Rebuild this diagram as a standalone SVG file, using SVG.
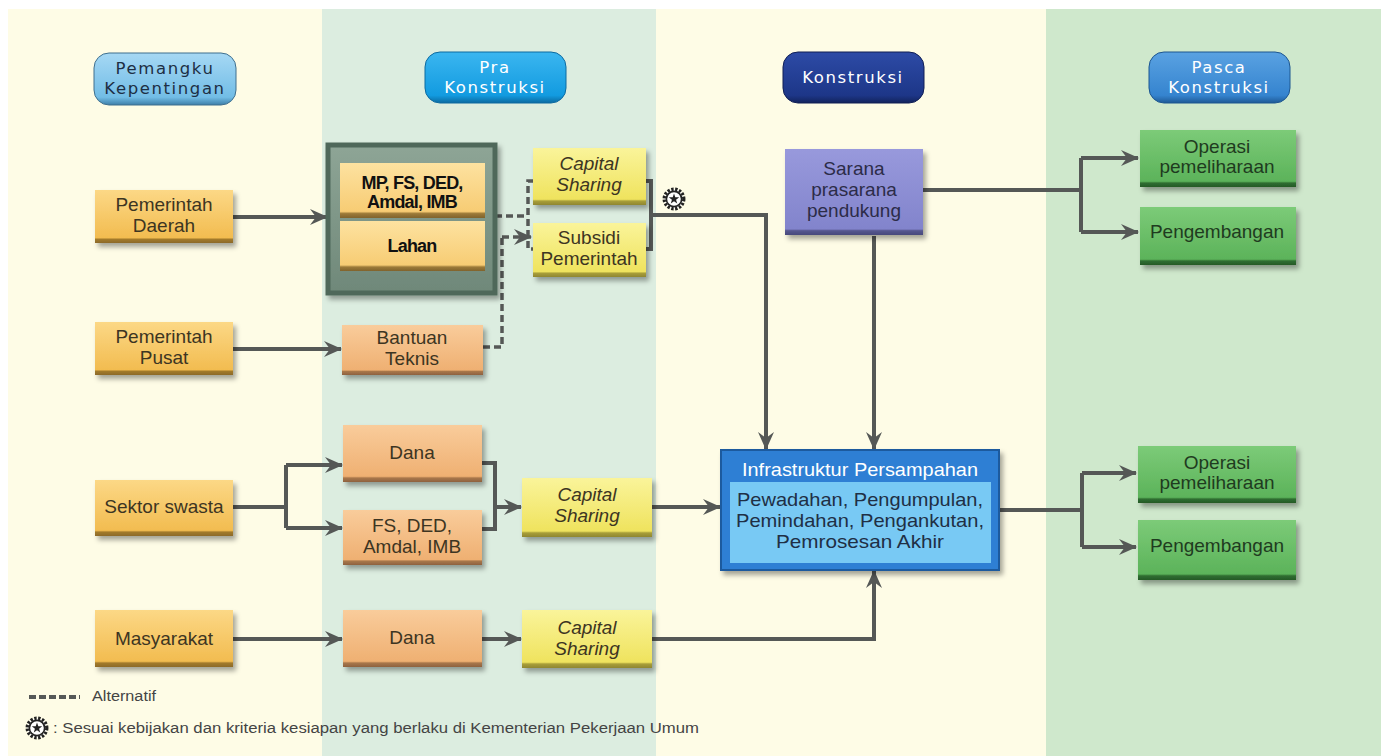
<svg xmlns="http://www.w3.org/2000/svg" width="1381" height="756" viewBox="0 0 1381 756">
  <style>
    .lbl { font-family: "Liberation Sans", Arial, sans-serif; font-size: 19px; fill: #3d3522; text-anchor: middle; }
    .ital { font-style: italic; }
    .hdr { font-family: "DejaVu Sans", Verdana, sans-serif; font-size: 16.5px; letter-spacing: 1.6px; text-anchor: middle; fill: #ffffff; }
    .bold { font-family: "Liberation Sans Narrow", "Liberation Sans", Arial, sans-serif; font-weight: bold; font-size: 18px; fill: #111; text-anchor: middle; letter-spacing: -0.8px; }
    .conn { fill: none; stroke: #555856; stroke-width: 4; }
    .dash { fill: none; stroke: #555856; stroke-width: 3.5; stroke-dasharray: 7 4; }
    .note { font-family: "Liberation Sans", Arial, sans-serif; font-size: 14px; fill: #444; }
  </style>
  <defs>
    <filter id="shadow" x="-10%" y="-10%" width="130%" height="140%">
      <feDropShadow dx="3" dy="4" stdDeviation="2.5" flood-color="#000" flood-opacity="0.35"/>
    </filter>
    <linearGradient id="gStake" x1="0" y1="0" x2="0" y2="1">
      <stop offset="0" stop-color="#fcd886"/>
      <stop offset="0.9" stop-color="#f2bc50"/>
      <stop offset="0.93" stop-color="#a27a2c"/>
      <stop offset="1" stop-color="#8c6a28"/>
    </linearGradient>
    <linearGradient id="gOrange" x1="0" y1="0" x2="0" y2="1">
      <stop offset="0" stop-color="#f9cc9b"/>
      <stop offset="0.9" stop-color="#efb072"/>
      <stop offset="0.93" stop-color="#a8764a"/>
      <stop offset="1" stop-color="#8e6240"/>
    </linearGradient>
    <linearGradient id="gYellow" x1="0" y1="0" x2="0" y2="1">
      <stop offset="0" stop-color="#faf49a"/>
      <stop offset="0.9" stop-color="#efe35e"/>
      <stop offset="0.93" stop-color="#a89e3a"/>
      <stop offset="1" stop-color="#8f8630"/>
    </linearGradient>
    <linearGradient id="gInner" x1="0" y1="0" x2="0" y2="1">
      <stop offset="0" stop-color="#fde2a0"/>
      <stop offset="0.88" stop-color="#f7cc74"/>
      <stop offset="0.92" stop-color="#9c7a38"/>
      <stop offset="1" stop-color="#80632c"/>
    </linearGradient>
    <linearGradient id="gPurple" x1="0" y1="0" x2="0" y2="1">
      <stop offset="0" stop-color="#9899dc"/>
      <stop offset="0.93" stop-color="#8284cc"/>
      <stop offset="0.95" stop-color="#55568e"/>
      <stop offset="1" stop-color="#484a7c"/>
    </linearGradient>
    <linearGradient id="gGreen" x1="0" y1="0" x2="0" y2="1">
      <stop offset="0" stop-color="#7ccb78"/>
      <stop offset="0.9" stop-color="#5cb35a"/>
      <stop offset="0.93" stop-color="#2f6e31"/>
      <stop offset="1" stop-color="#255a27"/>
    </linearGradient>
    <linearGradient id="gBox" x1="0" y1="0" x2="0" y2="1">
      <stop offset="0" stop-color="#8ea596"/>
      <stop offset="1" stop-color="#6f8879"/>
    </linearGradient>
    <linearGradient id="gP1" x1="0" y1="0" x2="0" y2="1">
      <stop offset="0" stop-color="#a6d8f4"/>
      <stop offset="0.85" stop-color="#72bde6"/>
      <stop offset="1" stop-color="#3d7ea8"/>
    </linearGradient>
    <linearGradient id="gP2" x1="0" y1="0" x2="0" y2="1">
      <stop offset="0" stop-color="#3bb6f0"/>
      <stop offset="0.85" stop-color="#129be0"/>
      <stop offset="1" stop-color="#0b6aa0"/>
    </linearGradient>
    <linearGradient id="gP3" x1="0" y1="0" x2="0" y2="1">
      <stop offset="0" stop-color="#2d4ba6"/>
      <stop offset="0.85" stop-color="#1d3688"/>
      <stop offset="1" stop-color="#12235c"/>
    </linearGradient>
    <linearGradient id="gP4" x1="0" y1="0" x2="0" y2="1">
      <stop offset="0" stop-color="#5aa2e2"/>
      <stop offset="0.85" stop-color="#3584cf"/>
      <stop offset="1" stop-color="#1f5a96"/>
    </linearGradient>
    <marker id="arr" viewBox="0 0 18 16" refX="17" refY="8" markerWidth="18" markerHeight="16" markerUnits="userSpaceOnUse" orient="auto">
      <path d="M0,0 L18,8 L0,16 L6,8 Z" fill="#555856"/>
    </marker>
    <symbol id="seal" viewBox="-11 -11 22 22" overflow="visible">
      <circle r="9" fill="#fff" stroke="#222" stroke-width="3" stroke-dasharray="2.2 1.4"/>
      <circle r="7" fill="#fff" stroke="#222" stroke-width="1.5"/>
      <polygon points="0,-5 1.18,-1.62 4.76,-1.55 1.9,0.62 2.94,4.05 0,2 -2.94,4.05 -1.9,0.62 -4.76,-1.55 -1.18,-1.62" fill="#222"/>
    </symbol>
  </defs>

  <!-- phase columns -->
  <rect x="0" y="0" width="1381" height="756" fill="#ffffff"/>
  <rect x="8" y="9" width="314" height="747" fill="#fefce6"/>
  <rect x="322" y="9" width="334" height="747" fill="#dcede0"/>
  <rect x="656" y="9" width="390" height="747" fill="#fefce6"/>
  <rect x="1046" y="9" width="335" height="747" fill="#cfe8cc"/>

  <!-- phase headers -->
  <g id="hdr-pemangku">
    <rect x="94" y="53" width="142" height="52" rx="15" fill="url(#gP1)" stroke="#3f6f8e" stroke-width="1"/>
    <text class="hdr" x="165" y="74" style="fill:#1d2f44">Pemangku</text>
    <text class="hdr" x="165" y="94" style="fill:#1d2f44">Kepentingan</text>
  </g>
  <g id="hdr-pra">
    <rect x="425" y="52" width="141" height="51" rx="15" fill="url(#gP2)" stroke="#0d6aa0" stroke-width="1"/>
    <text class="hdr" x="495" y="73">Pra</text>
    <text class="hdr" x="495" y="93">Konstruksi</text>
  </g>
  <g id="hdr-konstruksi">
    <rect x="783" y="52" width="141" height="51" rx="15" fill="url(#gP3)" stroke="#101f55" stroke-width="1"/>
    <text class="hdr" x="853" y="83">Konstruksi</text>
  </g>
  <g id="hdr-pasca">
    <rect x="1149" y="52" width="141" height="51" rx="15" fill="url(#gP4)" stroke="#1d5690" stroke-width="1"/>
    <text class="hdr" x="1219" y="73">Pasca</text>
    <text class="hdr" x="1219" y="93">Konstruksi</text>
  </g>

  <!-- connectors -->
  <g id="connectors">
    <path class="conn" d="M233,217 H327" marker-end="url(#arr)"/>
    <path class="conn" d="M233,349 H341" marker-end="url(#arr)"/>
    <!-- alternative (dashed) routes -->
    <path class="dash" d="M495,216 H528"/>
    <path class="dash" d="M534,181 H528 V249 H534"/>
    <path class="dash" d="M483,347 H502 V237"/>
    <path class="dash" d="M502,237 H531" marker-end="url(#arr)"/>
    <!-- capital sharing / subsidi to infrastructure -->
    <path class="conn" d="M645,181 H651 V249 H645" stroke-width="3"/>
    <path class="conn" d="M651,215 H766 V449" marker-end="url(#arr)"/>
    <path class="conn" d="M874,236 V449" marker-end="url(#arr)"/>
    <path class="conn" d="M922,190 H1081"/>
    <path class="conn" d="M1081,158 V232"/>
    <path class="conn" d="M1081,158 H1138" marker-end="url(#arr)"/>
    <path class="conn" d="M1081,232 H1138" marker-end="url(#arr)"/>
    <!-- sektor swasta -->
    <path class="conn" d="M233,507 H286"/>
    <path class="conn" d="M286,465 V528"/>
    <path class="conn" d="M286,465 H342" marker-end="url(#arr)"/>
    <path class="conn" d="M286,528 H342" marker-end="url(#arr)"/>
    <path class="conn" d="M482,463 H495 V529 H482" stroke-width="3"/>
    <path class="conn" d="M495,507 H521" marker-end="url(#arr)"/>
    <path class="conn" d="M652,507 H720" marker-end="url(#arr)"/>
    <!-- masyarakat -->
    <path class="conn" d="M233,639 H342" marker-end="url(#arr)" stroke-width="5"/>
    <path class="conn" d="M482,639 H521" marker-end="url(#arr)"/>
    <path class="conn" d="M652,639 H874 V571" marker-end="url(#arr)"/>
    <!-- infrastruktur to pasca konstruksi -->
    <path class="conn" d="M999,510 H1082" stroke-width="5"/>
    <path class="conn" d="M1082,473 V547"/>
    <path class="conn" d="M1082,473 H1136" marker-end="url(#arr)"/>
    <path class="conn" d="M1082,547 H1136" marker-end="url(#arr)"/>
    <use href="#seal" x="662" y="187" width="24" height="24"/>
  </g>

  <!-- stakeholders -->
  <g id="pemerintah-daerah">
    <rect x="95" y="190" width="138" height="53" fill="url(#gStake)" filter="url(#shadow)"/>
    <text class="lbl" x="164" y="211">Pemerintah</text>
    <text class="lbl" x="164" y="232">Daerah</text>
  </g>
  <g id="pemerintah-pusat">
    <rect x="95" y="322" width="138" height="53" fill="url(#gStake)" filter="url(#shadow)"/>
    <text class="lbl" x="164" y="343">Pemerintah</text>
    <text class="lbl" x="164" y="364">Pusat</text>
  </g>
  <g id="sektor-swasta">
    <rect x="95" y="480" width="138" height="56" fill="url(#gStake)" filter="url(#shadow)"/>
    <text class="lbl" x="164" y="513">Sektor swasta</text>
  </g>
  <g id="masyarakat">
    <rect x="95" y="610" width="138" height="57" fill="url(#gStake)" filter="url(#shadow)"/>
    <text class="lbl" x="164" y="645">Masyarakat</text>
  </g>

  <!-- pra konstruksi -->
  <g id="dokumen-lahan">
    <rect x="328" y="145" width="167" height="148" fill="url(#gBox)" stroke="#4f685a" stroke-width="5" filter="url(#shadow)"/>
    <rect x="340" y="163" width="145" height="55" fill="url(#gInner)"/>
    <text class="bold" x="412" y="189">MP, FS, DED,</text>
    <text class="bold" x="412" y="208">Amdal, IMB</text>
    <rect x="340" y="221" width="145" height="50" fill="url(#gInner)"/>
    <text class="bold" x="412" y="252">Lahan</text>
  </g>
  <g id="capital-sharing-1">
    <rect x="533" y="148" width="113" height="57" fill="url(#gYellow)" filter="url(#shadow)"/>
    <text class="lbl ital" x="589" y="170">Capital</text>
    <text class="lbl ital" x="589" y="191">Sharing</text>
  </g>
  <g id="subsidi-pemerintah">
    <rect x="533" y="223" width="113" height="54" fill="url(#gYellow)" filter="url(#shadow)"/>
    <text class="lbl" x="589" y="244">Subsidi</text>
    <text class="lbl" x="589" y="265">Pemerintah</text>
  </g>
  <g id="bantuan-teknis">
    <rect x="342" y="325" width="141" height="50" fill="url(#gOrange)" filter="url(#shadow)"/>
    <text class="lbl" x="412" y="344">Bantuan</text>
    <text class="lbl" x="412" y="365">Teknis</text>
  </g>
  <g id="dana-swasta">
    <rect x="343" y="425" width="139" height="57" fill="url(#gOrange)" filter="url(#shadow)"/>
    <text class="lbl" x="412" y="459">Dana</text>
  </g>
  <g id="dokumen-swasta">
    <rect x="343" y="510" width="139" height="55" fill="url(#gOrange)" filter="url(#shadow)"/>
    <text class="lbl" x="412" y="532">FS, DED,</text>
    <text class="lbl" x="412" y="553">Amdal, IMB</text>
  </g>
  <g id="capital-sharing-2">
    <rect x="522" y="478" width="130" height="59" fill="url(#gYellow)" filter="url(#shadow)"/>
    <text class="lbl ital" x="587" y="501">Capital</text>
    <text class="lbl ital" x="587" y="522">Sharing</text>
  </g>
  <g id="dana-masyarakat">
    <rect x="343" y="610" width="139" height="57" fill="url(#gOrange)" filter="url(#shadow)"/>
    <text class="lbl" x="412" y="644">Dana</text>
  </g>
  <g id="capital-sharing-3">
    <rect x="522" y="610" width="130" height="58" fill="url(#gYellow)" filter="url(#shadow)"/>
    <text class="lbl ital" x="587" y="634">Capital</text>
    <text class="lbl ital" x="587" y="655">Sharing</text>
  </g>

  <!-- konstruksi -->
  <g id="sarana-prasarana">
    <rect x="785" y="149" width="138" height="86" fill="url(#gPurple)" filter="url(#shadow)"/>
    <text class="lbl" x="854" y="175" style="fill:#2c2c48">Sarana</text>
    <text class="lbl" x="854" y="196" style="fill:#2c2c48">prasarana</text>
    <text class="lbl" x="854" y="217" style="fill:#2c2c48">pendukung</text>
  </g>
  <g id="infrastruktur-persampahan">
    <rect x="721" y="450" width="278" height="120" fill="#2f7fd4" stroke="#1d5a9e" stroke-width="2" filter="url(#shadow)"/>
    <text class="lbl" x="860" y="476" style="fill:#ffffff" textLength="236" lengthAdjust="spacingAndGlyphs">Infrastruktur Persampahan</text>
    <rect x="730" y="482" width="261" height="81" fill="#78c9f4"/>
    <text class="lbl" x="860" y="506" style="fill:#1f2f45" textLength="246" lengthAdjust="spacingAndGlyphs">Pewadahan, Pengumpulan,</text>
    <text class="lbl" x="860" y="527" style="fill:#1f2f45" textLength="248" lengthAdjust="spacingAndGlyphs">Pemindahan, Pengankutan,</text>
    <text class="lbl" x="860" y="548" style="fill:#1f2f45" textLength="168" lengthAdjust="spacingAndGlyphs">Pemrosesan Akhir</text>
  </g>

  <!-- pasca konstruksi -->
  <g id="operasi-1">
    <rect x="1140" y="130" width="156" height="57" fill="url(#gGreen)" filter="url(#shadow)"/>
    <text class="lbl" x="1217" y="153" style="fill:#1f3b20">Operasi</text>
    <text class="lbl" x="1217" y="173" style="fill:#1f3b20">pemeliharaan</text>
  </g>
  <g id="pengembangan-1">
    <rect x="1140" y="207" width="156" height="58" fill="url(#gGreen)" filter="url(#shadow)"/>
    <text class="lbl" x="1217" y="238" style="fill:#1f3b20">Pengembangan</text>
  </g>
  <g id="operasi-2">
    <rect x="1138" y="446" width="158" height="57" fill="url(#gGreen)" filter="url(#shadow)"/>
    <text class="lbl" x="1217" y="469" style="fill:#1f3b20">Operasi</text>
    <text class="lbl" x="1217" y="489" style="fill:#1f3b20">pemeliharaan</text>
  </g>
  <g id="pengembangan-2">
    <rect x="1138" y="520" width="158" height="60" fill="url(#gGreen)" filter="url(#shadow)"/>
    <text class="lbl" x="1217" y="552" style="fill:#1f3b20">Pengembangan</text>
  </g>

  <!-- legend -->
  <g id="legend">
    <path d="M29,697 H80" stroke="#555856" stroke-width="4" stroke-dasharray="7 3" fill="none"/>
    <text class="note" x="92" y="701" textLength="64" lengthAdjust="spacingAndGlyphs">Alternatif</text>
    <use href="#seal" x="25" y="716" width="24" height="24"/>
    <text class="note" x="53" y="733" textLength="646" lengthAdjust="spacingAndGlyphs">: Sesuai kebijakan dan kriteria kesiapan yang berlaku di Kementerian Pekerjaan Umum</text>
  </g>
</svg>
